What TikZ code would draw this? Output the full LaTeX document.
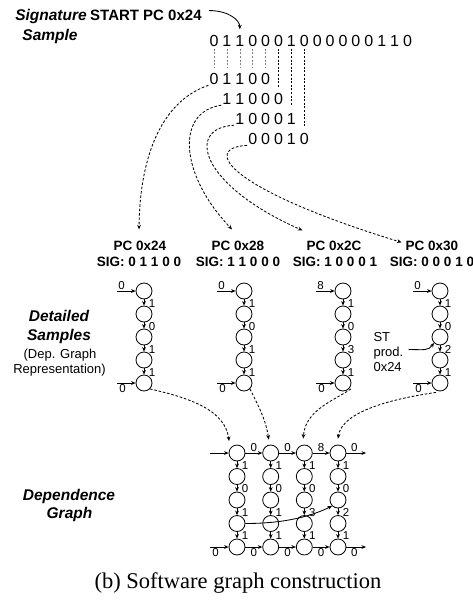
\documentclass[tikz,border=0pt]{standalone}
\usepackage{fontspec}
\setmainfont{Liberation Sans}
\newfontfamily\capfont{Liberation Serif}
\usetikzlibrary{arrows.meta}
\begin{document}
\begin{tikzpicture}[x=1pt,y=-1pt,
  st/.style={circle,draw,line width=0.8pt,minimum size=16pt,inner sep=0pt},
  lab/.style={font=\fontsize{11.5}{12}\selectfont,inner sep=1pt},
  rlab/.style={lab,right,xshift=3.5pt,pos=0.6},
  arr/.style={-{Stealth[length=4.5pt,width=3.8pt]},line width=0.85pt},
  darr/.style={-{Stealth[length=4.5pt,width=3.8pt]},line width=0.85pt,dash pattern=on 2.6pt off 1.8pt},
  vd/.style={line width=0.6pt,dash pattern=on 2pt off 1.6pt},
  vdg/.style={vd,gray},
  ttl/.style={font=\fontsize{15.5}{18}\selectfont\bfseries\itshape,anchor=base},
  plain/.style={font=\fontsize{13}{15}\selectfont,anchor=base},
  bit/.style={font=\fontsize{16}{16}\selectfont,inner sep=0pt,anchor=base},
  pc/.style={font=\fontsize{13.5}{15}\selectfont\bfseries,inner sep=1pt,anchor=base},
]
\useasboundingbox (0,0) rectangle (473,605);

% ---------- signature sample ----------
\node[ttl] (sig) at (51,20.7) {Signature};
\node[ttl] (smp) at (50,40.5) {Sample};
\node[font=\fontsize{15}{18}\selectfont\bfseries,anchor=base west,inner sep=0pt] (start) at (90,20.7) {START PC 0x24};

\foreach \c [count=\i] in {0,1,1,0,0,0,1,0,0,0,0,0,0,1,1,0}
  \node[bit] (b\i) at ({214+12.9*(\i-1)},46.5) {\c};
\foreach \c [count=\k] in {0,1,1,0,0}
  \node[bit] (wa\k) at ({214+12.9*(\k-1)},84) {\c};
\foreach \c [count=\k] in {1,1,0,0,0}
  \node[bit] (wb\k) at ({214+12.9*\k},104) {\c};
\foreach \c [count=\k] in {1,0,0,0,1}
  \node[bit] (wc\k) at ({214+12.9*(\k+1)},124) {\c};
\foreach \c [count=\k] in {0,0,0,1,0}
  \node[bit] (wd\k) at ({214+12.9*(\k+2)},144) {\c};

\draw[arr] ([xshift=7pt,yshift=5pt]start.east) .. controls +(20,0) and +(0,-9) .. ([yshift=6pt]b3.north);

\foreach \i in {1,...,5}
  \draw[vdg] ([yshift=-2pt]b\i.south) -- ([yshift=4.5pt]wa\i.north);
\draw[vd] ([yshift=-2pt]b6.south) -- ([yshift=5.5pt]wb5.north);
\draw[vd] ([yshift=-2pt]b7.south) -- ([yshift=7.5pt]wc5.north);
\draw[vd] ([yshift=-2pt]b8.south) -- ([yshift=5.5pt]wd5.north);

% ---------- PC labels ----------
\node[pc] (pc1) at (140,250) {PC 0x24};
\node[pc] (sg1) at (139,266.5) {SIG: 0 1 1 0 0};
\node[pc] (pc2) at (238,250) {PC 0x28};
\node[pc] (sg2) at (238,266.5) {SIG: 1 1 0 0 0};
\node[pc] (pc3) at (334,250) {PC 0x2C};
\node[pc] (sg3) at (335,266.5) {SIG: 1 0 0 0 1};
\node[pc] (pc4) at (432,250) {PC 0x30};
\node[pc] (sg4) at (432,266.5) {SIG: 0 0 0 1 0};

\draw[darr] ([xshift=-1pt,yshift=-1pt]wa1.south west) .. controls (165,100) and (140,150) .. ([xshift=-1pt,yshift=10pt]pc1.north);
\draw[darr] ([xshift=-1pt,yshift=-1pt]wb1.south west) .. controls (175,112) and (180,175) .. ([xshift=-6pt,yshift=10pt]pc2.north);
\draw[darr] ([xshift=-1pt,yshift=-1pt]wc1.south west) .. controls (185,128) and (200,185) .. ([xshift=-3pt,yshift=9pt]pc3.north west);
\draw[darr] ([xshift=-1pt,yshift=-1pt]wd1.south west) .. controls (200,148) and (230,190) .. ([xshift=-3pt,yshift=3pt]pc4.west);

% ---------- detailed samples ----------
\node[ttl] (det) at (59,321.5) {Detailed};
\node[ttl] (sam) at (59,340) {Samples};
\node[plain] (dep1) at (60,358) {(Dep. Graph};
\node[plain] (dep2) at (59.5,373) {Representation)};

\foreach \j/\x/\inp/\la/\lb/\lc/\ld in {1/144/0/1/0/1/1, 2/244/0/1/0/1/1, 3/343/8/1/0/3/1, 4/440/0/1/0/2/1} {
  \foreach \k in {1,...,5}
    \node[st] (d\j\k) at (\x,{291+23*(\k-1)}) {};
  \coordinate (din\j) at (\x-27,291);
  \coordinate (dbo\j) at (\x-27,383);
  \draw[arr] (din\j) -- node[lab,above,pos=0.25]{\inp} (d\j1);
  \draw[arr] (dbo\j) -- node[lab,below,pos=0.3]{0} (d\j5);
  \draw[arr] (d\j1) -- node[rlab]{\la} (d\j2);
  \draw[arr] (d\j2) -- node[rlab]{\lb} (d\j3);
  \draw[arr] (d\j3) -- node[rlab]{\lc} (d\j4);
  \draw[arr] (d\j4) -- node[rlab]{\ld} (d\j5);
}

\node[plain,anchor=base west] (st1) at (370,341.7) {ST};
\node[plain,anchor=base west] (st2) at (370,356.5) {prod.};
\node[plain,anchor=base west] (st3) at (370,371.7) {0x24};
\draw[arr] ([xshift=2pt,yshift=-6pt]st2.north east) .. controls +(16,0) and +(-6,8) .. (d43.south west);

% ---------- dependence graph ----------
\node[ttl] (dg1) at (69,500) {Dependence};
\node[ttl] (dg2) at (69.5,518) {Graph};

\foreach \i/\x in {1/237,2/270.7,3/304.3,4/338}
  \foreach \k in {1,...,5}
    \node[st] (g\i\k) at (\x,{453+23.5*(\k-1)}) {};

\foreach \i/\la/\lb/\lc/\ld in {1/1/0/1/1, 2/1/0/1/1, 3/1/0/3/1, 4/1/0/2/1} {
  \draw[arr] (g\i1) -- node[rlab]{\la} (g\i2);
  \draw[arr] (g\i2) -- node[rlab]{\lb} (g\i3);
  \draw[arr] (g\i3) -- node[rlab]{\lc} (g\i4);
  \draw[arr] (g\i4) -- node[rlab]{\ld} (g\i5);
}

\coordinate (gin1) at (210,453);
\coordinate (gout1) at (366,453);
\coordinate (gin5) at (210,547);
\coordinate (gout5) at (366,547);
\draw[arr] (gin1) -- (g11);
\draw[arr] (g11) -- node[lab,above]{0} (g21);
\draw[arr] (g21) -- node[lab,above]{0} (g31);
\draw[arr] (g31) -- node[lab,above]{8} (g41);
\draw[arr] (g41) -- node[lab,above,pos=0.4]{0} (gout1);
\draw[arr] (gin5) -- node[lab,below,pos=0.3]{0} (g15);
\draw[arr] (g15) -- node[lab,below]{0} (g25);
\draw[arr] (g25) -- node[lab,below]{0} (g35);
\draw[arr] (g35) -- node[lab,below]{0} (g45);
\draw[arr] (g45) -- node[lab,below,pos=0.4]{0} (gout5);

\draw[arr] (g14.east) .. controls +(40,0) and +(-20,10) .. (g43.south west);

% ---------- detailed -> dependence ----------
\draw[darr] (d15.south east) .. controls (190,398) and (225,410) .. ([xshift=-2pt,yshift=6pt]g11.north west);
\draw[darr] (d25.south east) .. controls (258,405) and (266,420) .. ([xshift=-2pt,yshift=5pt]g21.north);
\draw[darr] ([xshift=2pt]d35.south east) .. controls (335,400) and (305,410) .. ([xshift=-1pt,yshift=6pt]g31.north);
\draw[darr] ([xshift=-4pt,yshift=-1pt]d45.south) .. controls (398,398) and (342,410) .. ([yshift=6pt]g41.north);

% ---------- caption ----------
\node[font=\capfont\fontsize{22.5}{26}\selectfont,anchor=base] (cap) at (238,588) {(b) Software graph construction};
\end{tikzpicture}
\end{document}
